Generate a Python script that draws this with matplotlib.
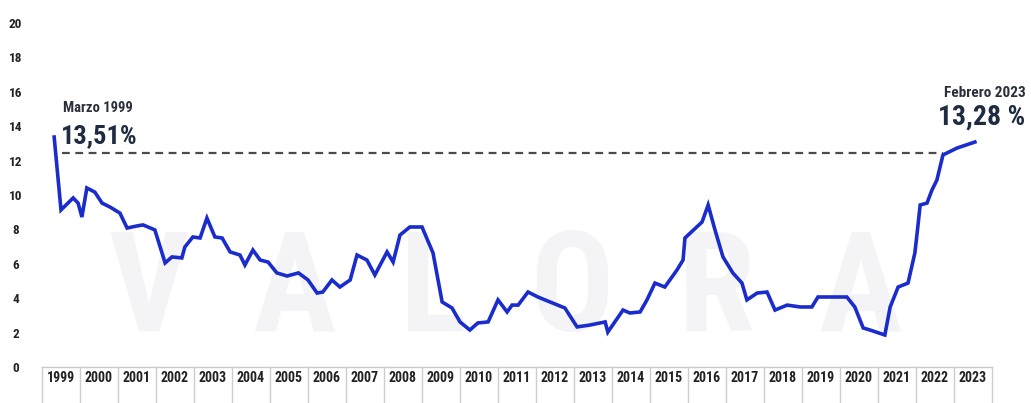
import matplotlib
matplotlib.use("Agg")
import matplotlib.pyplot as plt
import matplotlib.transforms as mtransforms
from matplotlib import font_manager

# fechas en años decimales y tasa en %
fechas = [1999.32, 1999.50, 1999.82, 1999.95, 2000.05, 2000.18, 2000.39, 2000.58, 2000.79,
          2001.05, 2001.24, 2001.50, 2001.66, 2001.97, 2002.24, 2002.42, 2002.68, 2002.76,
          2002.97, 2003.16, 2003.34, 2003.55, 2003.74, 2003.95, 2004.21, 2004.34, 2004.55,
          2004.74, 2004.95, 2005.18, 2005.45, 2005.75, 2006.00, 2006.24, 2006.39, 2006.63,
          2006.84, 2007.11, 2007.29, 2007.55, 2007.76, 2008.08, 2008.24, 2008.42, 2008.68,
          2009.00, 2009.29, 2009.53, 2009.79, 2010.00, 2010.26, 2010.47, 2010.74, 2011.00,
          2011.24, 2011.37, 2011.53, 2011.79, 2012.05, 2012.37, 2012.76, 2013.08, 2013.42,
          2013.82, 2013.89, 2014.29, 2014.47, 2014.74, 2014.92, 2015.13, 2015.39, 2015.71,
          2015.87, 2015.92, 2016.37, 2016.53, 2016.71, 2016.92, 2017.18, 2017.42, 2017.55,
          2017.82, 2018.08, 2018.29, 2018.61, 2018.95, 2019.26, 2019.42, 2020.18, 2020.39,
          2020.61, 2020.79, 2021.18, 2021.32, 2021.53, 2021.79, 2021.97, 2022.03, 2022.11,
          2022.29, 2022.42, 2022.55, 2022.71, 2023.08, 2023.55]
tasa = [13.37, 9.13, 9.83, 9.53, 8.72, 10.41, 10.17, 9.53, 9.30,
        8.95, 8.08, 8.20, 8.26, 7.97, 6.05, 6.40, 6.34, 6.98,
        7.56, 7.50, 8.66, 7.56, 7.50, 6.69, 6.51, 5.93, 6.80,
        6.22, 6.10, 5.47, 5.29, 5.47, 5.06, 4.30, 4.36, 5.06,
        4.65, 5.06, 6.51, 6.22, 5.35, 6.69, 6.10, 7.67, 8.14,
        8.14, 6.63, 3.78, 3.43, 2.62, 2.15, 2.56, 2.62, 3.90,
        3.20, 3.60, 3.60, 4.36, 4.07, 3.78, 3.43, 2.33, 2.44,
        2.62, 2.03, 3.31, 3.14, 3.20, 3.90, 4.88, 4.65, 5.64,
        6.22, 7.50, 8.43, 9.42, 7.97, 6.40, 5.47, 4.88, 3.90,
        4.30, 4.36, 3.31, 3.60, 3.49, 3.49, 4.07, 4.07, 3.49,
        2.27, 2.15, 1.86, 3.49, 4.65, 4.88, 6.63, 7.79, 9.42,
        9.53, 10.29, 10.87, 12.33, 12.73, 13.08]

anios = list(range(1999, 2024))
yticks = list(range(0, 21, 2))

nivel_ref = 12.44
ref_inicio = 1999.53
ref_fin = 2022.71

# buscar una fuente estrecha si existe
nombres = {f.name for f in font_manager.fontManager.ttflist}
fuente = []
for n in ["Liberation Sans Narrow", "DejaVu Sans Condensed", "Roboto Condensed", "Roboto"]:
    if n in nombres:
        fuente.append(n)
fuente.append("DejaVu Sans")
estirar = "condensed"

azul = "#1a2ccc"
oscuro = "#1f2b40"

fig = plt.figure(figsize=(10.31, 4.03), dpi=100)
ax = fig.add_axes([42 / 1031, 36 / 403, 950 / 1031, 344 / 403])
ax.set_xlim(1999, 2024)
ax.set_ylim(0, 20)

# marca de agua
fig.text(0.49, 0.11, "V  A  L  O  R  A", fontsize=100, color="#f4f4f7", ha="center", va="bottom",
         family=fuente, fontweight="bold", zorder=-5)
ax.set_zorder(2)

ax.hlines(nivel_ref, ref_inicio, ref_fin, colors="#4a4a4a", linestyles=(0, (3.5, 2.5)), lw=1.6, zorder=2)
ax.plot(fechas, tasa, color=azul, lw=2.6, solid_joinstyle="miter", zorder=3, clip_on=False)

# ejes
for s in ax.spines.values():
    s.set_visible(False)
ax.set_xticks([])
ax.set_yticks(yticks)
ax.set_yticklabels([str(v) for v in yticks], family=fuente, fontweight="bold", fontsize=9.5,
                   color="#222222", ha="center", fontstretch=estirar)
ax.tick_params(axis="y", length=0, pad=19)
ax.patch.set_alpha(0)

# cajas de años bajo el eje
trans = mtransforms.blended_transform_factory(ax.transData, ax.transAxes)
ax.plot([1999, 2024], [0.0, 0.0], transform=trans, color="#c9c9c9", lw=1, clip_on=False)
for a in anios + [2024]:
    ax.plot([a, a], [0.0, -0.11], transform=trans, color="#cccccc", lw=1, clip_on=False)
for a in anios:
    ax.text(a + 0.5, -0.033, str(a), transform=trans, ha="center", va="center",
            family=fuente, fontweight="bold", fontsize=10, color="#222222", fontstretch=estirar)

# anotaciones
ax.text(1999.55, 15.05, "Marzo 1999", family=fuente, fontweight="bold", fontsize=10.5,
        color="#2a2f3a", ha="left", va="center", fontstretch=estirar)
ax.text(1999.5, 13.4, "13,51%", family=fuente, fontweight="bold", fontsize=19,
        color=oscuro, ha="left", va="center", fontstretch=estirar)
ax.text(2024.88, 15.95, "Febrero 2023", family=fuente, fontweight="bold", fontsize=11,
        color="#2a2f3a", ha="right", va="center", clip_on=False, fontstretch=estirar)
ax.text(2024.88, 14.5, "13,28 %", family=fuente, fontweight="bold", fontsize=20,
        color=oscuro, ha="right", va="center", clip_on=False, fontstretch=estirar)

fig.savefig("out.png", dpi=100)
